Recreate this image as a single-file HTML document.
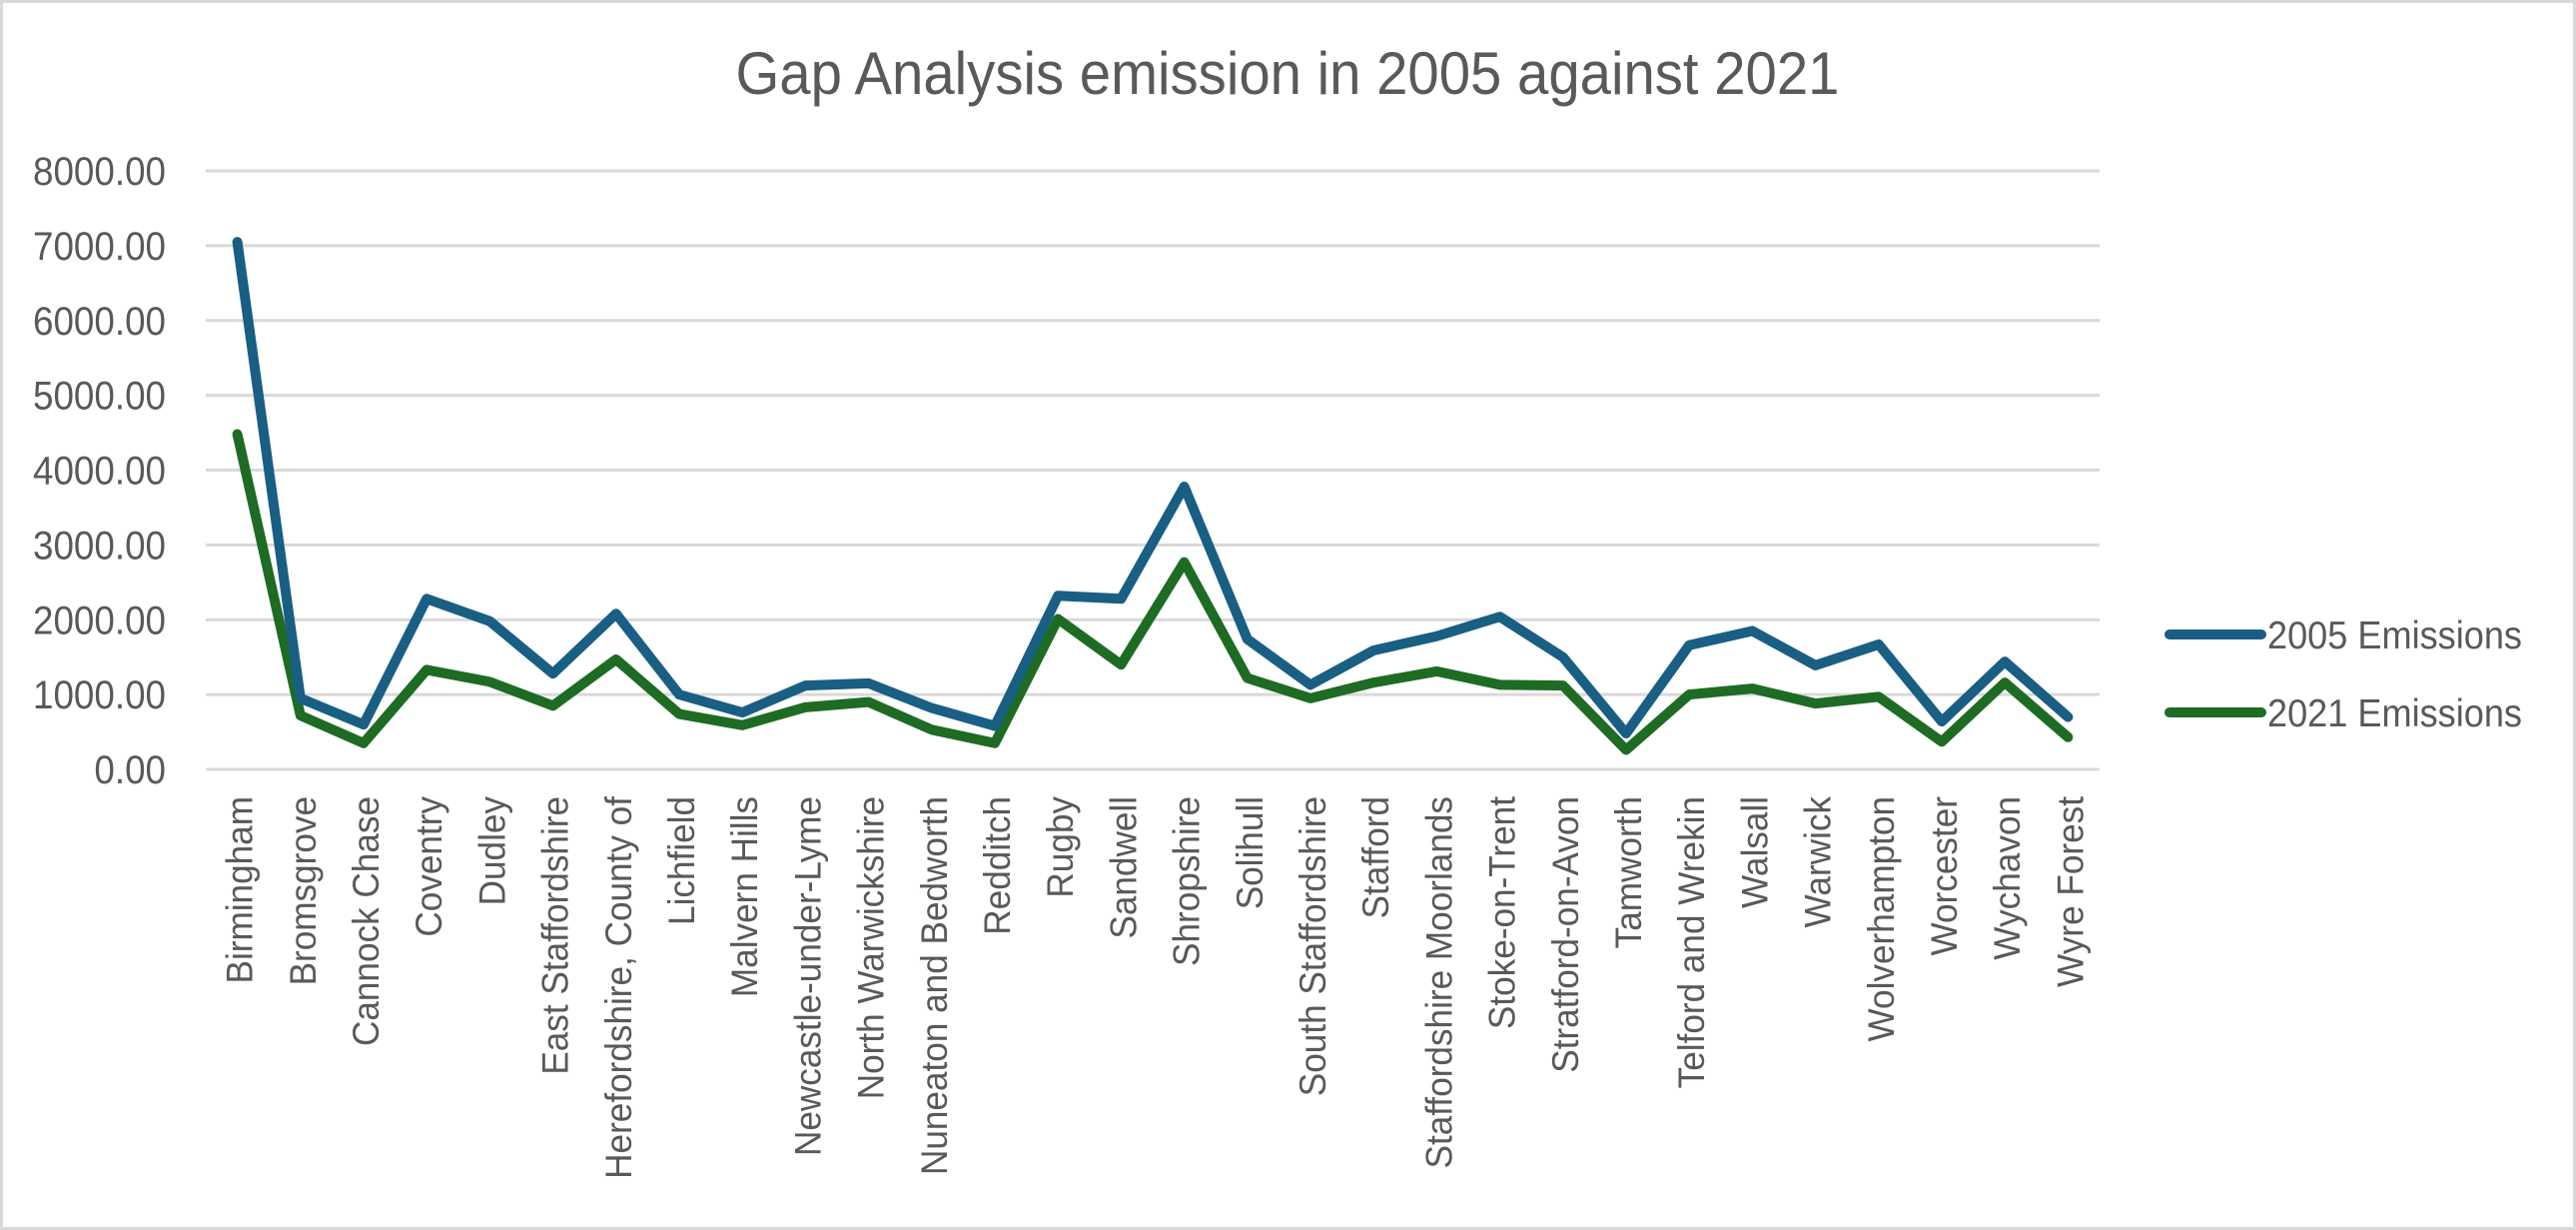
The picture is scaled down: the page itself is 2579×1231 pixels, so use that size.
<!DOCTYPE html>
<html><head><meta charset="utf-8"><style>
html,body{margin:0;padding:0;background:#fff;}
svg{display:block;font-family:"Liberation Sans",sans-serif;}
</style></head><body>
<svg id="chart" width="2579" height="1231" viewBox="0 0 2579 1231" xmlns="http://www.w3.org/2000/svg">
<rect x="1.5" y="1.5" width="2576" height="1228" fill="#fff" stroke="#d9d9d9" stroke-width="3"/>
<text x="1289" y="94" text-anchor="middle" font-size="60" fill="#595959" textLength="1105" lengthAdjust="spacingAndGlyphs">Gap Analysis emission in 2005 against 2021</text>
<g id="grid"></g>
<g id="yticks"></g>
<g id="xticks"></g>
<g id="series"></g>
<g>
<g>
<line x1="2172" y1="635" x2="2264" y2="635" stroke="#195e83" stroke-width="10" stroke-linecap="round"/>
<text x="2270" y="649" font-size="39" fill="#595959" textLength="255" lengthAdjust="spacingAndGlyphs">2005 Emissions</text>
</g>
<g>
<line x1="2172" y1="713" x2="2264" y2="713" stroke="#1e6b24" stroke-width="10" stroke-linecap="round"/>
<text x="2270" y="727" font-size="39" fill="#595959" textLength="255" lengthAdjust="spacingAndGlyphs">2021 Emissions</text>
</g>
</g>
</svg>
<script>
const categories=["Birmingham","Bromsgrove","Cannock Chase","Coventry","Dudley","East Staffordshire","Herefordshire, County of","Lichfield","Malvern Hills","Newcastle-under-Lyme","North Warwickshire","Nuneaton and Bedworth","Redditch","Rugby","Sandwell","Shropshire","Solihull","South Staffordshire","Stafford","Staffordshire Moorlands","Stoke-on-Trent","Stratford-on-Avon","Tamworth","Telford and Wrekin","Walsall","Warwick","Wolverhampton","Worcester","Wychavon","Wyre Forest"];
const emissions2005=[7050,950,600,2280,1980,1280,2080,1000,760,1120,1150,820,580,2320,2280,3780,1740,1130,1590,1780,2040,1500,480,1660,1850,1390,1670,640,1440,700];
const emissions2021=[4480,720,350,1330,1170,850,1470,740,590,830,900,530,350,2010,1400,2770,1220,950,1160,1310,1130,1120,260,1000,1080,880,970,370,1160,430];
const yTicks=[0,1000,2000,3000,4000,5000,6000,7000,8000];
const yTickLabels=["0.00","1000.00","2000.00","3000.00","4000.00","5000.00","6000.00","7000.00","8000.00"];

const NS="http://www.w3.org/2000/svg";
const L=206,R=2102,T=171,B=770,YMAX=8000;
const step=(R-L)/categories.length;
const x=i=>L+step*(i+0.5);
const y=v=>B-(v/YMAX)*(B-T);
function mk(tag,attrs,parent){const e=document.createElementNS(NS,tag);for(const k in attrs)e.setAttribute(k,attrs[k]);parent.appendChild(e);return e;}
const grid=document.getElementById('grid'),yt=document.getElementById('yticks'),xt=document.getElementById('xticks'),se=document.getElementById('series');
yTicks.forEach((v,i)=>{
  const g=mk('line',{x1:L,x2:R,y1:y(v),y2:y(v),stroke:'#d9d9d9','stroke-width':3},grid);
  
  
  const t=mk('text',{transform:`translate(166,${y(v)+14}) scale(0.92,1)`,'text-anchor':'end','font-size':40,fill:'#595959'},yt);
  t.textContent=yTickLabels[i];
  
  
});
categories.forEach((c,i)=>{
  const t=mk('text',{transform:`translate(${x(i)+15},797) rotate(-90) scale(0.95,1)`,'text-anchor':'end','font-size':37,fill:'#595959'},xt);
  t.textContent=c;
  
  
});
function line(vals,color,name){
  const p=mk('polyline',{points:vals.map((v,i)=>x(i)+','+y(v)).join(' '),fill:'none',stroke:color,'stroke-width':10,'stroke-linejoin':'round','stroke-linecap':'round'},se);
  
  
}
line(emissions2021,'#1e6b24','line-2021-emissions');
line(emissions2005,'#195e83','line-2005-emissions');
</script>
</body></html>
